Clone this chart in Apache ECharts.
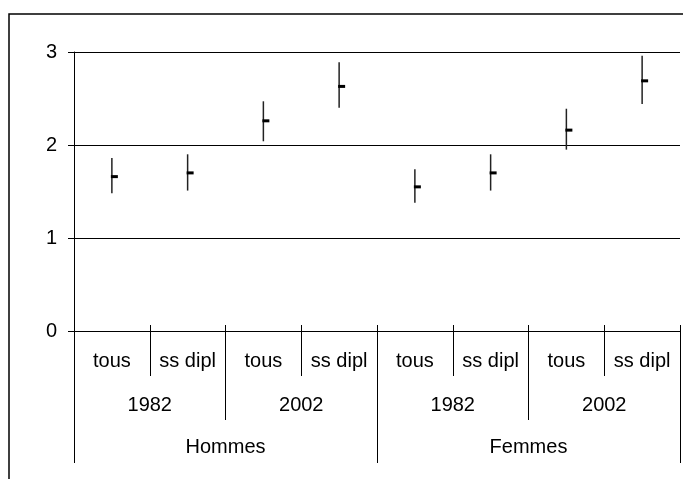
<!DOCTYPE html>
<html>
<head>
<meta charset="utf-8">
<script src="https://cdn.jsdelivr.net/npm/echarts@6/dist/echarts.min.js"></script>
<style>
  html, body { margin: 0; padding: 0; background: #fff; }
  #chart { width: 683px; height: 479px; }
</style>
</head>
<body>
<div id="chart"></div>
<script>
// categories (3 niveaux)
const leafLabels = ["tous", "ss dipl", "tous", "ss dipl", "tous", "ss dipl", "tous", "ss dipl"];
const yearLabels = ["1982", "2002", "1982", "2002"];
const sexLabels = ["Hommes", "Femmes"];

// valeurs
const meanValues = [1.66, 1.70, 2.26, 2.63, 1.55, 1.70, 2.16, 2.69];
const lowValues = [1.48, 1.51, 2.04, 2.40, 1.38, 1.51, 1.95, 2.44];
const highValues = [1.86, 1.90, 2.47, 2.89, 1.74, 1.90, 2.39, 2.96];

const yTicks = [0, 1, 2, 3];

const FONT = "Liberation Sans, Arial, sans-serif";
const FS = 20;

const chart = echarts.init(document.getElementById("chart"), null, { renderer: "canvas" });

const seriesData = meanValues.map((m, i) => [i, lowValues[i], highValues[i], m]);

// niveau d'axe x (toutes en bas, empilées par la marge des labels)
function levelAxis(data, tickLen, margin, showLine) {
  return {
    type: "category",
    position: "bottom",
    data: data,
    boundaryGap: true,
    axisLine: { show: showLine, lineStyle: { color: "#000", width: 1 } },
    axisTick: { show: true, length: tickLen, interval: 0, lineStyle: { color: "#000", width: 1 } },
    axisLabel: { show: true, interval: 0, margin: margin, color: "#000", fontFamily: FONT, fontSize: FS },
    splitLine: { show: false },
  };
}

const option = {
  animation: false,
  backgroundColor: "#fff",
  graphic: [
    {
      type: "rect",
      silent: true,
      z: -1,
      shape: { x: 9, y: 14, width: 1000, height: 1000 },
      style: { fill: "none", stroke: "#000", lineWidth: 1.5 },
    },
  ],
  grid: { left: 74, right: 3, top: 52, bottom: 148, containLabel: false },
  xAxis: [
    levelAxis(leafLabels, 45, 20, true),
    levelAxis(yearLabels, 89, 64, false),
    levelAxis(sexLabels, 132, 106, false),
    // petits traits au-dessus de l'axe
    {
      type: "category",
      position: "bottom",
      data: leafLabels,
      axisLine: { show: false },
      axisTick: { show: true, inside: true, length: 6, interval: 0, lineStyle: { color: "#000" } },
      axisLabel: { show: false },
    },
  ],
  yAxis: {
    type: "value",
    min: yTicks[0],
    max: yTicks[yTicks.length - 1],
    interval: 1,
    axisLine: { show: true, lineStyle: { color: "#000", width: 1 } },
    axisTick: { show: true, length: 6, lineStyle: { color: "#000" } },
    axisLabel: { color: "#000", fontFamily: FONT, fontSize: FS, margin: 17 },
    splitLine: { show: true, lineStyle: { color: "#000", width: 1 } },
  },
  series: [
    {
      type: "custom",
      xAxisIndex: 0,
      yAxisIndex: 0,
      data: seriesData,
      encode: { x: 0, y: [1, 2, 3] },
      renderItem: function (params, api) {
        const i = api.value(0);
        const lo = api.coord([i, api.value(1)]);
        const hi = api.coord([i, api.value(2)]);
        const mid = api.coord([i, api.value(3)]);
        return {
          type: "group",
          children: [
            {
              type: "line",
              shape: { x1: lo[0], y1: lo[1], x2: hi[0], y2: hi[1] },
              style: { stroke: "#222", lineWidth: 1.5 },
            },
            {
              type: "rect",
              shape: { x: mid[0] - 1, y: mid[1] - 1.5, width: 7, height: 3 },
              style: { fill: "#000" },
            },
          ],
        };
      },
      z: 5,
    },
  ],
};

chart.setOption(option);
</script>
</body>
</html>
